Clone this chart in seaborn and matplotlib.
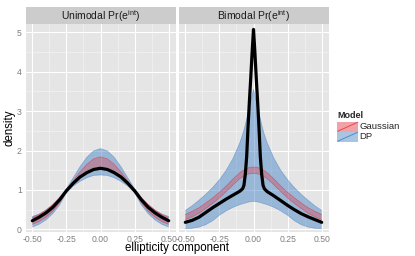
import matplotlib
matplotlib.use("Agg")
import matplotlib.pyplot as plt
import seaborn as sns
import pandas as pd
from matplotlib.patches import Rectangle
from matplotlib.lines import Line2D

# ---------------- data ----------------
panel_titles = ["Unimodal Pr($\\mathregular{e^{int}}$)", "Bimodal Pr($\\mathregular{e^{int}}$)"]
models = ["Gaussian", "DP"]

x_uni = [-0.5, -0.45, -0.4, -0.35, -0.3, -0.25, -0.2, -0.15, -0.1, -0.05, 0.0,
         0.05, 0.1, 0.15, 0.2, 0.25, 0.3, 0.35, 0.4, 0.45, 0.5]
uni_truth = [0.22, 0.31, 0.42, 0.56, 0.75, 0.98, 1.17, 1.33, 1.44, 1.52, 1.55,
             1.52, 1.44, 1.33, 1.17, 0.98, 0.75, 0.56, 0.42, 0.31, 0.22]
uni_gauss_lo = [0.13, 0.20, 0.31, 0.46, 0.68, 0.95, 1.16, 1.33, 1.45, 1.52, 1.55,
                1.52, 1.45, 1.33, 1.16, 0.95, 0.68, 0.46, 0.31, 0.20, 0.13]
uni_gauss_hi = [0.30, 0.38, 0.49, 0.63, 0.80, 1.01, 1.23, 1.46, 1.65, 1.79, 1.84,
                1.79, 1.65, 1.46, 1.23, 1.01, 0.80, 0.63, 0.49, 0.38, 0.30]
uni_dp_lo = [0.06, 0.13, 0.24, 0.40, 0.62, 0.93, 1.10, 1.22, 1.31, 1.37, 1.38,
             1.37, 1.31, 1.22, 1.10, 0.93, 0.62, 0.40, 0.24, 0.13, 0.06]
uni_dp_hi = [0.33, 0.39, 0.49, 0.63, 0.81, 1.03, 1.31, 1.59, 1.83, 1.99, 2.05,
             1.99, 1.83, 1.59, 1.31, 1.03, 0.81, 0.63, 0.49, 0.39, 0.33]

x_bi = [-0.5, -0.45, -0.4, -0.35, -0.3, -0.25, -0.2, -0.15, -0.1, -0.08, -0.07, -0.06,
        -0.05, -0.04, -0.03, -0.02, -0.01, 0.0, 0.01, 0.02, 0.03, 0.04, 0.05, 0.06,
        0.07, 0.08, 0.1, 0.15, 0.2, 0.25, 0.3, 0.35, 0.4, 0.45, 0.5]
bi_truth = [0.18, 0.23, 0.31, 0.43, 0.55, 0.66, 0.77, 0.87, 0.97, 1.03, 1.12, 1.40,
            1.85, 2.60, 3.25, 3.85, 4.50, 5.07, 4.50, 3.85, 3.25, 2.60, 1.85, 1.40,
            1.12, 1.03, 0.96, 0.85, 0.73, 0.61, 0.50, 0.40, 0.32, 0.25, 0.18]
bi_gauss_lo = [0.25, 0.32, 0.41, 0.53, 0.66, 0.80, 0.96, 1.13, 1.29, 1.33, 1.35, 1.37,
               1.39, 1.40, 1.41, 1.42, 1.42, 1.42, 1.42, 1.42, 1.41, 1.40, 1.39, 1.37,
               1.35, 1.33, 1.29, 1.13, 0.96, 0.80, 0.66, 0.53, 0.41, 0.32, 0.25]
bi_gauss_hi = [0.38, 0.46, 0.55, 0.67, 0.80, 0.94, 1.10, 1.28, 1.44, 1.49, 1.51, 1.53,
               1.55, 1.56, 1.57, 1.58, 1.58, 1.58, 1.58, 1.58, 1.57, 1.56, 1.55, 1.53,
               1.51, 1.49, 1.44, 1.28, 1.10, 0.94, 0.80, 0.67, 0.55, 0.46, 0.38]
bi_dp_lo = [0.02, 0.03, 0.06, 0.12, 0.22, 0.36, 0.47, 0.56, 0.63, 0.65, 0.66, 0.67,
            0.68, 0.69, 0.70, 0.70, 0.71, 0.71, 0.71, 0.70, 0.70, 0.69, 0.68, 0.67,
            0.66, 0.65, 0.63, 0.56, 0.47, 0.36, 0.22, 0.12, 0.06, 0.03, 0.02]
bi_dp_hi = [0.48, 0.60, 0.74, 0.89, 1.06, 1.26, 1.50, 1.80, 2.20, 2.40, 2.52, 2.65,
            2.80, 2.95, 3.10, 3.25, 3.40, 3.55, 3.40, 3.25, 3.10, 2.95, 2.80, 2.65,
            2.52, 2.40, 2.20, 1.80, 1.50, 1.26, 1.06, 0.89, 0.74, 0.60, 0.48]

x_ticks = [-0.5, -0.25, 0.0, 0.25, 0.5]
x_ticklabels = ["-0.50", "-0.25", "0.00", "0.25", "0.50"]
y_ticks = [0, 1, 2, 3, 4, 5]
y_ticklabels = ["0", "1", "2", "3", "4", "5"]

# ---------------- style ----------------
sns.set_style("white")
plt.rcParams["font.family"] = ["Liberation Sans", "DejaVu Sans"]
plt.rcParams["mathtext.fontset"] = "custom"
plt.rcParams["mathtext.rm"] = "Liberation Sans"
plt.rcParams["mathtext.it"] = "Liberation Sans:italic"
plt.rcParams["axes.unicode_minus"] = False

W, H = 415, 256
fig = plt.figure(figsize=(W / 100, H / 100), dpi=100)
fig.patch.set_facecolor("white")

PANEL_BG = "#E5E5E5"
GRID_MAJ = "white"
GRID_MIN = "#F2F2F2"
TICK_COL = "#7F7F7F"
DP_COL = "#3C7DC4"
G_COL = "#E8303A"

panel_top, panel_bot = 24.3, 232.0
strip_top = 7.3
lefts = [25.5, 178.5]
pw = 150.0

def fig_rect(l, t, w, h):
    return [l / W, (H - t - h) / H, w / W, h / H]

datasets = [
    (x_uni, uni_truth, uni_gauss_lo, uni_gauss_hi, uni_dp_lo, uni_dp_hi),
    (x_bi, bi_truth, bi_gauss_lo, bi_gauss_hi, bi_dp_lo, bi_dp_hi),
]

for i, (xs, truth, glo, ghi, dlo, dhi) in enumerate(datasets):
    ax = fig.add_axes(fig_rect(lefts[i], panel_top, pw, panel_bot - panel_top))
    ax.set_facecolor(PANEL_BG)
    for s in ax.spines.values():
        s.set_visible(False)
    ax.set_xlim(-0.55, 0.55)
    ax.set_ylim(-0.065, 5.2)
    # grid
    for v in [-0.375, -0.125, 0.125, 0.375]:
        ax.axvline(v, color=GRID_MIN, lw=0.5, zorder=0)
    for v in [0.5, 1.5, 2.5, 3.5, 4.5]:
        ax.axhline(v, color=GRID_MIN, lw=0.5, zorder=0)
    for v in x_ticks:
        ax.axvline(v, color=GRID_MAJ, lw=0.8, zorder=0.5)
    for v in y_ticks:
        ax.axhline(v, color=GRID_MAJ, lw=0.8, zorder=0.5)

    df = pd.DataFrame({"x": xs, "truth": truth, "glo": glo, "ghi": ghi,
                       "dlo": dlo, "dhi": dhi})
    ax.fill_between(df["x"], df["dlo"], df["dhi"], facecolor=DP_COL, alpha=0.45,
                    edgecolor="none", zorder=2)
    ax.plot(df["x"], df["dhi"], color=DP_COL, lw=0.5, alpha=0.5, zorder=2.1)
    ax.plot(df["x"], df["dlo"], color=DP_COL, lw=0.5, alpha=0.5, zorder=2.1)
    ax.fill_between(df["x"], df["glo"], df["ghi"], facecolor=G_COL, alpha=0.33,
                    edgecolor="none", zorder=3)
    ax.plot(df["x"], df["ghi"], color=G_COL, lw=0.5, alpha=0.6, zorder=3.1)
    ax.plot(df["x"], df["glo"], color=G_COL, lw=0.5, alpha=0.6, zorder=3.1)
    sns.lineplot(data=df, x="x", y="truth", ax=ax, color="black", linewidth=2.3,
                 zorder=4, estimator=None)

    ax.set_xticks(x_ticks)
    ax.set_xticklabels(x_ticklabels)
    ax.tick_params(axis="x", colors=TICK_COL, length=1.6, width=0.6, pad=0.3,
                   labelsize=6.2, labelcolor=TICK_COL)
    if i == 0:
        ax.set_yticks(y_ticks)
        ax.set_yticklabels(y_ticklabels)
        ax.tick_params(axis="y", colors=TICK_COL, length=1.6, width=0.6, pad=1,
                       labelsize=6.2, labelcolor=TICK_COL)
    else:
        ax.set_yticks([])
    ax.set_xlabel("")
    ax.set_ylabel("")

    # strip
    fig.patches.append(Rectangle((lefts[i] / W, (H - panel_top) / H), pw / W,
                                 (panel_top - strip_top) / H,
                                 transform=fig.transFigure, facecolor="#CCCCCC",
                                 edgecolor="none", zorder=0))
    fig.text((lefts[i] + pw / 2) / W, (H - (strip_top + panel_top) / 2 - 0.5) / H,
             panel_titles[i], ha="center", va="center", fontsize=7.5, color="#1A1A1A")

# axis titles
fig.text((lefts[0] + lefts[1] + pw) / 2 / W, (H - 250.5) / H, "ellipticity component",
         ha="center", va="baseline", fontsize=8.3, color="black")
fig.text(9 / W, (H - 128) / H, "density", ha="center", va="center",
         rotation=90, fontsize=8.3, color="black")

# legend
fig.text(337 / W, (H - 116) / H, "Model", ha="left", va="center", fontsize=6.5,
         fontweight="bold")
key_cols = [(G_COL, "#F0A2A6"), (DP_COL, "#A8C6E2")]
for j, name in enumerate(models):
    top = 121.7 + 10 * j
    fig.patches.append(Rectangle((337.3 / W, (H - top - 10) / H), 21 / W, 10 / H,
                                 transform=fig.transFigure,
                                 facecolor=key_cols[j][1], edgecolor="none"))
    fig.lines.append(Line2D([337.8 / W, 357.8 / W], [(H - top - 9.5) / H, (H - top - 0.5) / H],
                            transform=fig.transFigure, color=key_cols[j][0], lw=0.7,
                            alpha=0.8))
    fig.text(359.5 / W, (H - top - 5) / H, name, ha="left", va="center", fontsize=6.8)

fig.savefig("out.png", dpi=100)
